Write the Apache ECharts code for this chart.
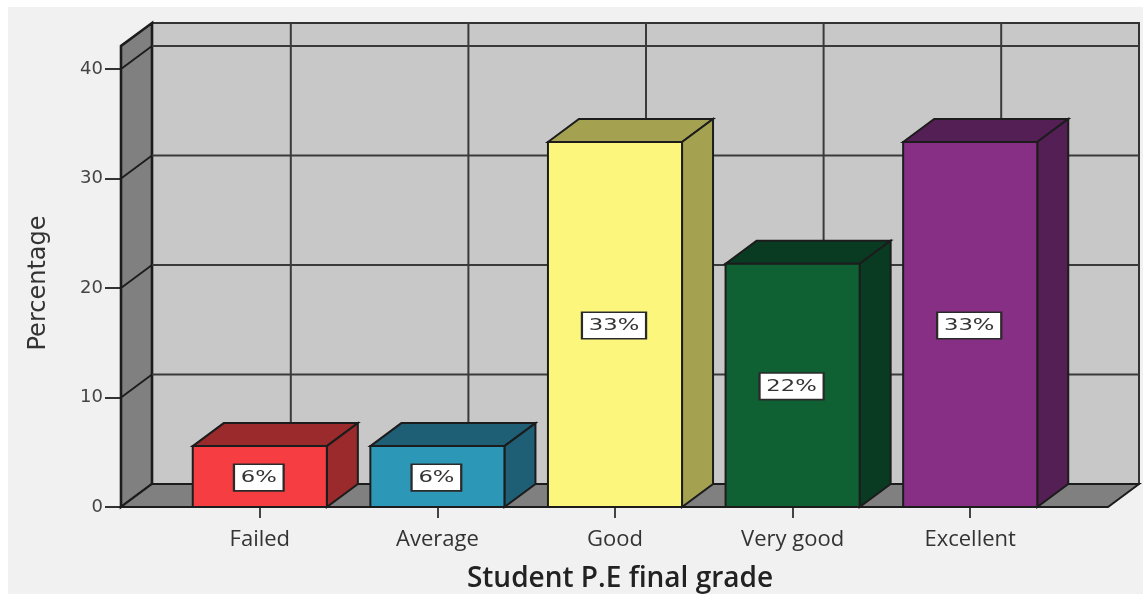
<!DOCTYPE html>
<html>
<head>
<meta charset="utf-8">
<title>Student P.E final grade</title>
<script src="https://cdn.jsdelivr.net/npm/echarts@6/dist/echarts.min.js"></script>
<style>
  html, body { margin: 0; padding: 0; background: #ffffff; width: 1143px; height: 594px; overflow: hidden; }
  #panel { position: absolute; left: 8px; top: 7px; right: 0; bottom: 0; background: #f1f1f1; }
  #chart { position: absolute; left: 0; top: 0; width: 1143px; height: 594px; }
</style>
</head>
<body>
<div id="panel"></div>
<div id="chart"></div>
<script>
// Share of students per final grade, in percent
const grades = ['Failed', 'Average', 'Good', 'Very good', 'Excellent'];
const percentages = [5.56, 5.56, 33.33, 22.22, 33.33];
const yTicks = [0, 10, 20, 30, 40];

// Fill colours per bar: front face, then the shaded top and side faces
const frontColors = ['#f53d42', '#2d97b7', '#fcf77c', '#0f6134', '#872f85'];
const shadeColors = ['#9a2a2c', '#1e5f76', '#a4a251', '#083b22', '#541f54'];

// Oblique projection used for the 3D look, in pixels
const depthX = 31;
const depthY = 23;
const wallPad = 50;     // floor overhang beyond the outer category bands
const headroom = 23;    // front edge of the walls above the top tick
const barRatio = 0.755; // bar width as a share of its category band

const edge = { stroke: '#1c1c1c', lineWidth: 2, lineJoin: 'miter' };

function line(x1, y1, x2, y2, color, width) {
  return {
    type: 'line',
    shape: { x1, y1, x2, y2 },
    style: { stroke: color, lineWidth: width, fill: null }
  };
}

function poly(points, fill, style) {
  return { type: 'polygon', shape: { points }, style: Object.assign({ fill }, style || edge) };
}

// Back wall, side wall, floor and their grid lines
function renderWalls(params, api) {
  const band = api.size([1, 0])[0];
  const left = api.coord([0, 0])[0] - band / 2 - wallPad;
  const right = api.coord([grades.length - 1, 0])[0] + band / 2 + wallPad - 1;
  const floorY = api.coord([0, 0])[1];
  const topY = api.coord([0, yTicks[yTicks.length - 1]])[1] - headroom;
  const children = [
    poly([[left + depthX, topY - depthY], [right + depthX, topY - depthY],
          [right + depthX, floorY - depthY], [left + depthX, floorY - depthY]], '#c8c8c8',
         { stroke: '#333333', lineWidth: 2 }),
    poly([[left, floorY], [left + depthX, floorY - depthY], [left + depthX, topY - depthY], [left, topY]], '#808080',
         { stroke: '#1c1c1c', lineWidth: 2.6 }),
    poly([[left, floorY], [right, floorY], [right + depthX, floorY - depthY], [left + depthX, floorY - depthY]], '#808080')
  ];
  yTicks.forEach(function (t) {
    const y = api.coord([0, t])[1];
    if (t > 0) {
      children.push(line(left + depthX, y - depthY, right + depthX, y - depthY, '#3a3a3a', 1.8));
      children.push(line(left, y, left + depthX, y - depthY, '#1c1c1c', 1.8));
    }
  });
  grades.forEach(function (g, i) {
    const x = api.coord([i, 0])[0] + depthX;
    children.push(line(x, topY - depthY, x, floorY - depthY, '#3a3a3a', 2));
  });
  return { type: 'group', children };
}

// One extruded bar with its white value tag on the front face
function renderBar(params, api) {
  const i = api.value(0);
  const value = api.value(1);
  const base = api.coord([i, 0]);
  const top = api.coord([i, value]);
  const w = api.size([1, 0])[0] * barRatio;
  const x0 = base[0] - w / 2;
  const x1 = base[0] + w / 2;
  const yB = base[1];
  const yT = top[1];
  return {
    type: 'group',
    children: [
      poly([[x0, yT], [x0 + depthX, yT - depthY], [x1 + depthX, yT - depthY], [x1, yT]], shadeColors[i]),
      poly([[x1, yT], [x1 + depthX, yT - depthY], [x1 + depthX, yB - depthY], [x1, yB]], shadeColors[i]),
      poly([[x0, yT], [x1, yT], [x1, yB], [x0, yB]], frontColors[i]),
      {
        type: 'text',
        x: base[0] - 1,
        y: (yT + yB) / 2 + 1,
        scaleX: 1.42,
        style: {
          text: Math.round(value) + '%',
          font: '16px "DejaVu Sans"',
          fill: '#333333',
          align: 'center',
          verticalAlign: 'middle',
          backgroundColor: '#ffffff',
          borderColor: '#2a2a2a',
          borderWidth: 1.6,
          padding: [6, 4, 3, 4]
        }
      }
    ]
  };
}

const chart = echarts.init(document.getElementById('chart'), null, { renderer: 'canvas' });
chart.setOption({
  animation: false,
  backgroundColor: 'transparent',
  grid: { left: 171, right: 84, top: 69, bottom: 87, outerBoundsMode: 'none' },
  xAxis: {
    type: 'category',
    data: grades,
    axisLine: { show: false },
    axisTick: { show: true, alignWithLabel: true, length: 11, lineStyle: { color: '#444444', width: 2 } },
    axisLabel: { color: '#333333', fontFamily: 'Open Sans', fontSize: 22, margin: 22 },
    name: 'Student P.E final grade',
    nameLocation: 'middle',
    nameGap: 58,
    nameTextStyle: { color: '#222222', fontFamily: 'Open Sans', fontWeight: 600, fontSize: 28, padding: [0, 0, 0, 10] }
  },
  yAxis: {
    type: 'value',
    min: 0,
    max: 40,
    interval: 10,
    offset: 50,
    splitLine: { show: false },
    axisLine: { show: true, lineStyle: { color: '#1c1c1c', width: 2 } },
    axisTick: { show: true, length: 16, lineStyle: { color: '#333333', width: 2 } },
    axisLabel: { color: '#444444', fontFamily: '"DejaVu Sans", sans-serif', fontSize: 18, margin: 18 },
    name: 'Percentage',
    nameLocation: 'middle',
    nameGap: 70,
    nameTextStyle: { color: '#333333', fontFamily: '"DejaVu Sans", sans-serif', fontSize: 24, padding: [0, 0, 0, 10] }
  },
  series: [
    { type: 'custom', silent: true, z: 1, renderItem: renderWalls, data: [[0, 0]], encode: { x: 0, y: 1 } },
    {
      type: 'custom',
      silent: true,
      z: 2,
      renderItem: renderBar,
      data: grades.map(function (g, i) { return [i, percentages[i]]; }),
      encode: { x: 0, y: 1 }
    }
  ]
});
</script>
</body>
</html>
